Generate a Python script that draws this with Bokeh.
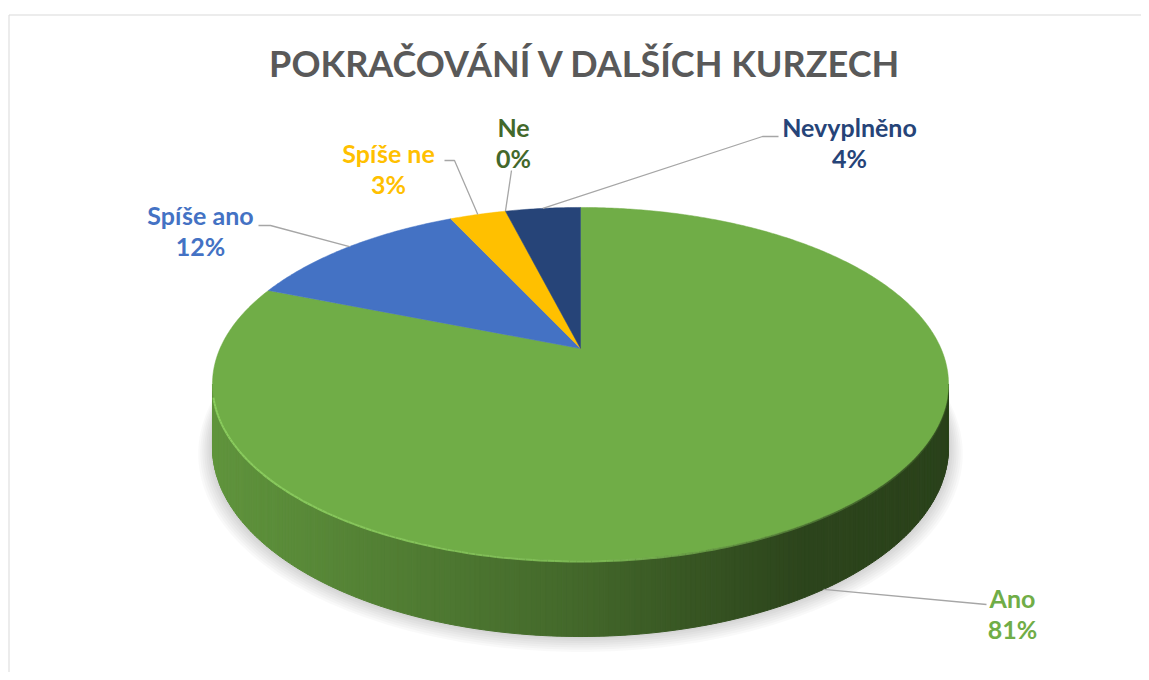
import numpy as np
from bokeh.plotting import figure
from bokeh.models import Range1d
from bokeh.core.properties import value
from bokeh.embed import file_html
from bokeh.resources import INLINE

# ---------------- data ----------------
title = "POKRAČOVÁNÍ V DALŠÍCH KURZECH"
categories = ["Ano", "Spíše ano", "Spíše ne", "Ne", "Nevyplněno"]
shares = [81, 12, 3, 0, 4]
pct_labels = ["81%", "12%", "3%", "0%", "4%"]
colors = ["#70AD47", "#4472C4", "#FFC000", "#43682B", "#264478"]

# ---------------- layout (screen px) ----------------
W, H = 1141, 672
label_pos = [(1012, 597), (200, 214), (388, 152), (513, 126), (849, 126)]
leader_start = [[(986, 604)], [(258, 225), (270, 225)], [(444, 160), (454, 160)],
                [(511, 170)], [(778, 136), (762, 136)]]
anchor_on_bottom = [True, False, False, False, False]

# 3D pie projection parameters
CX, CY = 580.0, 348.0
PA, PB, PK, PH = 360.5, 169.4, 0.2011, 60.7


def proj(theta_deg, z=0.0, a=PA, b=PB, dy=0.0):
    t = np.radians(theta_deg)
    u, v = np.cos(t), np.sin(t)
    w = 1 + PK * v
    x = CX + a * u / w
    y = CY - (b * v + PH * z) / w + dy
    return x, y


p = figure(width=W, height=H, output_backend="svg", toolbar_location=None,
           x_range=Range1d(0, W), y_range=Range1d(H, 0),
           min_border=0, min_border_left=0, min_border_right=0,
           min_border_top=0, min_border_bottom=0)
p.axis.visible = False
p.grid.visible = False
p.outline_line_color = None
p.background_fill_color = "white"
p.border_fill_color = "white"

# chart area border (left and top edges; the rest is outside the picture)
p.segment(x0=[8.5, 8.5], y0=[14.5, 14.5], x1=[8.5, 1200], y1=[800, 14.5],
          line_color="#D9D9D9", line_width=1)

# slice angles (start at 12 o'clock, clockwise)
total = float(sum(shares))
starts, ends = [], []
cur = 90.0
for s in shares:
    starts.append(cur)
    cur -= 360.0 * s / total
    ends.append(cur)

# soft shadow under the pie
full = np.linspace(0, 360, 361)
for d in range(2, 16, 2):
    xs, ys = proj(full, z=-1, a=PA + d, b=PB + d * 0.6, dy=d * 0.35)
    p.patch(list(xs), list(ys), fill_color="black", fill_alpha=0.022, line_color=None)

# visible side (front) strips with shading
vis_lo = -180 + np.degrees(np.arcsin(PK))
vis_hi = -np.degrees(np.arcsin(PK))


def shade(hex_col, f):
    r, g, b = int(hex_col[1:3], 16), int(hex_col[3:5], 16), int(hex_col[5:7], 16)
    return "#%02x%02x%02x" % (int(r * f), int(g * f), int(b * f))


for i, s in enumerate(shares):
    if s <= 0:
        continue
    a0, a1 = ends[i], starts[i]
    for off in (0, -360, 360):
        lo = max(a0 + off, vis_lo)
        hi = min(a1 + off, vis_hi)
        if hi <= lo:
            continue
        n = max(2, int((hi - lo) * 1.5))
        th = np.linspace(lo, hi, n + 1)
        for j in range(n):
            ta, tb = th[j], th[j + 1]
            xa, ya = proj(ta)
            xb, yb = proj(tb)
            xb2, yb2 = proj(tb, z=-1)
            xa2, ya2 = proj(ta, z=-1)
            xm = (xa + xb) / 2
            f = float(np.interp(xm, [212, 580, 800, 948], [0.86, 0.6, 0.4, 0.38]))
            c = shade(colors[i], f)
            p.patch([xa, xb, xb2, xa2], [ya, yb, yb2, ya2], fill_color=c,
                    line_color=c, line_width=1)

# top faces
for i, s in enumerate(shares):
    if s <= 0:
        continue
    n = max(4, int(abs(starts[i] - ends[i]) * 2))
    th = np.linspace(starts[i], ends[i], n)
    xs, ys = proj(th)
    p.patch([CX] + list(xs), [CY] + list(ys), fill_color=colors[i],
            line_color=colors[i], line_width=0.5)

# light bevel along the front top rim
th = np.linspace(vis_lo + 4, vis_hi - 4, 160)
xs, ys = proj(th)
al = np.interp(xs, [212, 580, 800, 948], [0.9, 0.75, 0.35, 0.1])
p.segment(x0=xs[:-1], y0=ys[:-1] + 1, x1=xs[1:], y1=ys[1:] + 1,
          line_color="#8FD262", line_alpha=list(al[:-1]), line_width=2)

# leader lines
for i in range(len(categories)):
    mid = (starts[i] + ends[i]) / 2
    ax, ay = proj(mid, z=-1 if anchor_on_bottom[i] else 0)
    pts = leader_start[i] + [(float(ax), float(ay))]
    p.line([q[0] for q in pts], [q[1] for q in pts], line_color="#A6A6A6", line_width=1.3)

# labels
for i in range(len(categories)):
    lx, ly = label_pos[i]
    p.text(x=[lx], y=[ly], text=[categories[i]], text_font=value("Lato"),
           text_font_style="bold", text_font_size="25px", text_color=colors[i],
           text_align="center", text_baseline="middle")
    p.text(x=[lx], y=[ly + 31], text=[pct_labels[i]], text_font=value("Lato"),
           text_font_style="bold", text_font_size="25px", text_color=colors[i],
           text_align="center", text_baseline="middle")

# title
p.text(x=[585], y=[62], text=[title], text_font=value("Lato"), text_font_style="bold",
       text_font_size="36px", text_color="#595959", text_align="center",
       text_baseline="middle")

open("out.html", "w").write(file_html(p, INLINE))
